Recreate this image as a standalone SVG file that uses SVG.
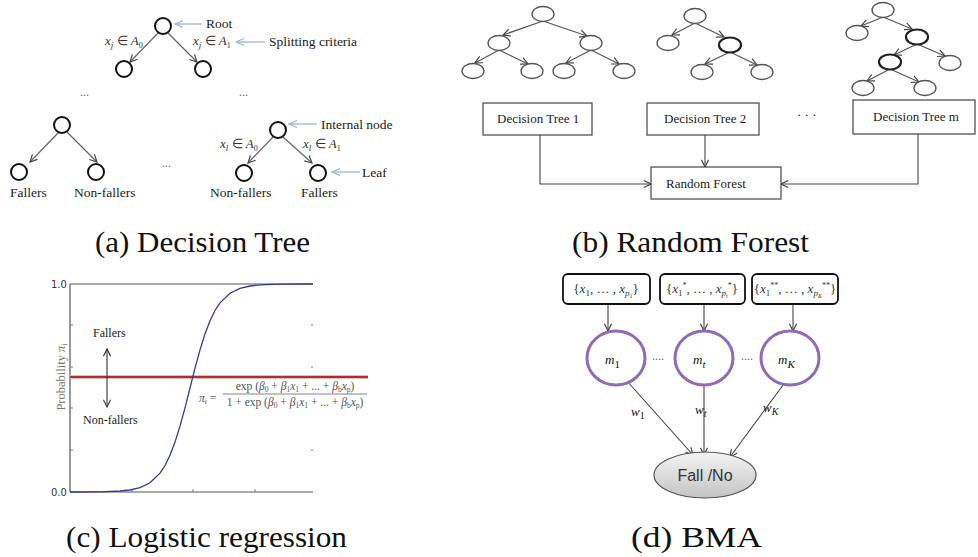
<svg xmlns="http://www.w3.org/2000/svg" width="978" height="557" viewBox="0 0 978 557">
<style>
.t{font-family:"Liberation Serif","Times New Roman",serif;fill:#222}
.ta{font-size:13.5px}
.tb{font-size:13px}
.cap{font-family:"Liberation Serif","Times New Roman",serif;font-size:30px;fill:#111}
.m{font-family:"Liberation Serif","Times New Roman",serif;font-style:italic;fill:#333;font-size:13px}
.node-a{fill:#fff;stroke:#111;stroke-width:2}
.node-b{fill:#fff;stroke:#555;stroke-width:1.3}
.node-bb{fill:#fff;stroke:#222;stroke-width:2.2}
.edge{stroke:#666;stroke-width:1.2;fill:none;marker-end:url(#ah)}
.edgeb{stroke:#555;stroke-width:1.2;fill:none;marker-end:url(#ah)}
.blue{stroke:#9bb5d2;stroke-width:1.3;fill:none;marker-end:url(#ahb)}
.box{fill:#fff;stroke:#444;stroke-width:1.2}
.rbox{fill:#fff;stroke:#111;stroke-width:1.8}
.circ{fill:#fff;stroke:#8e6cba;stroke-width:3}
.con{stroke:#444;stroke-width:1.1;fill:none;marker-end:url(#ah)}
.dots{font-family:"Liberation Serif",serif;font-size:12px;fill:#666}
.ax{stroke:#555;stroke-width:1.2;fill:none}
.tick{stroke:#777;stroke-width:1;fill:none}
.lab{font-family:"DejaVu Sans","Liberation Sans",sans-serif;font-size:10px;fill:#333}
.fm{font-family:"Liberation Serif",serif;font-size:11.5px;fill:#555}
</style>
<defs>
<marker id="ah" viewBox="0 0 10 10" refX="9" refY="5" markerWidth="9" markerHeight="9" markerUnits="userSpaceOnUse" orient="auto">
<path d="M1,1 L9,5 L1,9" fill="none" stroke="#444" stroke-width="1.3"/>
</marker>
<marker id="ahs" viewBox="0 0 10 10" refX="1" refY="5" markerWidth="9" markerHeight="9" markerUnits="userSpaceOnUse" orient="auto">
<path d="M9,1 L1,5 L9,9" fill="none" stroke="#333" stroke-width="1.3"/>
</marker>
<marker id="ahb" viewBox="0 0 10 10" refX="9" refY="5" markerWidth="10" markerHeight="10" markerUnits="userSpaceOnUse" orient="auto">
<path d="M1,1.5 L9,5 L1,8.5" fill="none" stroke="#9bb5d2" stroke-width="1.3"/>
</marker>
<linearGradient id="gr" x1="0" y1="0" x2="0" y2="1">
<stop offset="0" stop-color="#f4f4f4"/>
<stop offset="1" stop-color="#c4c4c4"/>
</linearGradient>
</defs>

<!-- Panel (a) Decision Tree -->
<g id="panel-a">
<g id="connectors-a">
<line class="edge" x1="158" y1="33" x2="130" y2="62"/>
<line class="edge" x1="168" y1="33" x2="197" y2="62"/>
<line class="edge" x1="59" y1="132" x2="30" y2="162"/>
<line class="edge" x1="67" y1="132" x2="97" y2="162"/>
<line class="edge" x1="273" y1="137" x2="248" y2="163"/>
<line class="edge" x1="283" y1="137" x2="312" y2="163"/>
<line class="blue" x1="202" y1="24" x2="175" y2="24"/>
<line class="blue" x1="265" y1="42" x2="236" y2="42"/>
<line class="blue" x1="317" y1="124" x2="289" y2="124"/>
<line class="blue" x1="360" y1="172" x2="332" y2="172"/>
</g>
<g id="a-root"><circle class="node-a" cx="163" cy="26" r="8"/></g>
<g id="a-c1"><circle class="node-a" cx="124" cy="69" r="8"/></g>
<g id="a-c2"><circle class="node-a" cx="203" cy="69" r="8"/></g>
<g id="a-n2"><circle class="node-a" cx="62" cy="125" r="8"/></g>
<g id="a-l1"><circle class="node-a" cx="19" cy="172" r="8"/></g>
<g id="a-l2"><circle class="node-a" cx="96" cy="172" r="8"/></g>
<g id="a-n3"><circle class="node-a" cx="278" cy="130" r="8"/></g>
<g id="a-l3"><circle class="node-a" cx="244" cy="173" r="8"/></g>
<g id="a-l4"><circle class="node-a" cx="318" cy="173" r="8"/></g>
<text class="t ta" x="206" y="28">Root</text>
<text class="t ta" x="269" y="46">Splitting criteria</text>
<text class="t ta" x="321" y="129">Internal node</text>
<text class="t ta" x="362" y="177">Leaf</text>
<text class="t ta" x="10" y="197">Fallers</text>
<text class="t ta" x="74" y="197">Non-fallers</text>
<text class="t ta" x="210" y="197">Non-fallers</text>
<text class="t ta" x="301" y="197">Fallers</text>
<text class="m" x="105" y="45">x<tspan dy="3" font-size="9">j</tspan><tspan dy="-3" font-style="normal"> ∈ </tspan>A<tspan dy="3" font-size="8" font-style="normal">0</tspan></text>
<text class="m" x="193" y="45">x<tspan dy="3" font-size="9">j</tspan><tspan dy="-3" font-style="normal">  ∈ </tspan>A<tspan dy="3" font-size="8" font-style="normal">1</tspan></text>
<text class="m" x="220" y="148">x<tspan dy="3" font-size="9">l</tspan><tspan dy="-3" font-style="normal"> ∈ </tspan>A<tspan dy="3" font-size="8" font-style="normal">0</tspan></text>
<text class="m" x="303" y="148">x<tspan dy="3" font-size="9">l</tspan><tspan dy="-3" font-style="normal">  ∈ </tspan>A<tspan dy="3" font-size="8" font-style="normal">1</tspan></text>
<text class="dots" x="80" y="96">...</text>
<text class="dots" x="239" y="96">...</text>
<text class="dots" x="162" y="167">...</text>
</g>

<!-- Panel (b) Random Forest -->
<g id="panel-b">
<g id="connectors-b">
<line class="edgeb" x1="543" y1="21" x2="503" y2="35"/>
<line class="edgeb" x1="543" y1="21" x2="587" y2="36"/>
<line class="edgeb" x1="499" y1="50" x2="475" y2="63"/>
<line class="edgeb" x1="499" y1="50" x2="528" y2="64"/>
<line class="edgeb" x1="591" y1="50" x2="566" y2="63"/>
<line class="edgeb" x1="591" y1="50" x2="619" y2="64"/>
<line class="edgeb" x1="695" y1="23" x2="672" y2="35"/>
<line class="edgeb" x1="695" y1="23" x2="724" y2="37"/>
<line class="edgeb" x1="730" y1="52" x2="705" y2="64"/>
<line class="edgeb" x1="730" y1="52" x2="757" y2="65"/>
<line class="edgeb" x1="883" y1="17" x2="861" y2="26"/>
<line class="edgeb" x1="883" y1="17" x2="912" y2="29"/>
<line class="edgeb" x1="917" y1="44" x2="894" y2="55"/>
<line class="edgeb" x1="917" y1="44" x2="945" y2="56"/>
<line class="edgeb" x1="890" y1="69" x2="867" y2="81"/>
<line class="edgeb" x1="890" y1="69" x2="919" y2="82"/>
<polyline class="con" points="540,135 540,184 651,184"/>
<line class="con" x1="705" y1="135" x2="705" y2="167"/>
<polyline class="con" points="918,134 918,184 781,184"/>
</g>
<g id="b-tree1">
<ellipse class="node-b" cx="543" cy="14" rx="11" ry="7.5"/>
<ellipse class="node-b" cx="499" cy="43" rx="11" ry="7.5"/>
<ellipse class="node-b" cx="591" cy="43" rx="11" ry="7.5"/>
<ellipse class="node-b" cx="473" cy="71" rx="11" ry="7.5"/>
<ellipse class="node-b" cx="532" cy="71" rx="11" ry="7.5"/>
<ellipse class="node-b" cx="564" cy="71" rx="11" ry="7.5"/>
<ellipse class="node-b" cx="624" cy="71" rx="11" ry="7.5"/>
</g>
<g id="b-tree2">
<ellipse class="node-b" cx="695" cy="16" rx="11" ry="7.5"/>
<ellipse class="node-b" cx="668" cy="43" rx="11" ry="7.5"/>
<ellipse class="node-bb" cx="730" cy="45" rx="11" ry="7.5"/>
<ellipse class="node-b" cx="702" cy="72" rx="11" ry="7.5"/>
<ellipse class="node-b" cx="762" cy="72" rx="11" ry="7.5"/>
</g>
<g id="b-treem">
<ellipse class="node-b" cx="883" cy="10" rx="11" ry="7.5"/>
<ellipse class="node-b" cx="857" cy="33" rx="11" ry="7.5"/>
<ellipse class="node-bb" cx="917" cy="37" rx="11" ry="7.5"/>
<ellipse class="node-bb" cx="890" cy="62" rx="11" ry="7.5"/>
<ellipse class="node-b" cx="950" cy="63" rx="11" ry="7.5"/>
<ellipse class="node-b" cx="863" cy="88" rx="11" ry="7.5"/>
<ellipse class="node-b" cx="925" cy="88" rx="11" ry="7.5"/>
</g>
<g id="b-dt1"><rect class="box" x="483" y="103" width="109" height="32"/><text class="t tb" x="497" y="123">Decision Tree 1</text></g>
<g id="b-dt2"><rect class="box" x="647" y="103" width="112" height="32"/><text class="t tb" x="664" y="123">Decision Tree 2</text></g>
<text class="t tb" x="797" y="119">·  ·  ·</text>
<g id="b-dtm"><rect class="box" x="853" y="100" width="122" height="34"/><text class="t tb" x="873" y="121">Decision Tree m</text></g>
<g id="b-rf"><rect class="box" x="651" y="167" width="130" height="32"/><text class="t tb" x="666" y="188">Random Forest</text></g>
</g>

<!-- Panel (c) Logistic regression -->
<g id="panel-c">
<line class="ax" x1="70" y1="284" x2="70" y2="492"/>
<line class="ax" x1="70" y1="284" x2="313" y2="284"/>
<line class="ax" x1="70" y1="492" x2="313" y2="492"/>
<g class="tick">
<line x1="70" y1="325" x2="73" y2="325"/>
<line x1="70" y1="367" x2="73" y2="367"/>
<line x1="70" y1="408" x2="73" y2="408"/>
<line x1="70" y1="450" x2="73" y2="450"/>
<line x1="132" y1="492" x2="132" y2="489"/>
<line x1="193" y1="492" x2="193" y2="489"/>
<line x1="255" y1="492" x2="255" y2="489"/>
<line x1="311" y1="325" x2="313" y2="325"/>
<line x1="311" y1="367" x2="313" y2="367"/>
<line x1="311" y1="450" x2="313" y2="450"/>
</g>
<text class="lab" x="51" y="288">1.0</text>
<text class="lab" x="51" y="496">0.0</text>
<text class="t" font-size="12.5" style="fill:#777" transform="translate(65,377) rotate(-90)" text-anchor="middle">Probability  <tspan font-style="italic">π</tspan><tspan font-size="8" dy="2">i</tspan></text>
<line x1="70" y1="377" x2="368" y2="377" stroke="#e8b8b8" stroke-width="4"/>
<line x1="70" y1="377" x2="368" y2="377" stroke="#a83232" stroke-width="2"/>
<polyline fill="none" stroke="#3a3a8c" stroke-width="1.3" points="70,492 100,491.8 120,491 130,490 140,487.6 150,482.8 160,473.2 165,465.5 170,455.2 175,442.1 180,426.1 185,407.8 190,388 195,368.2 200,349.9 205,333.9 210,320.8 215,310.5 220,302.8 230,293.2 240,288.4 250,286 260,284.9 280,284.2 313,284"/>
<text class="t" font-size="12" x="93" y="337">Fallers</text>
<text class="t" font-size="12" x="83" y="424">Non-fallers</text>
<line x1="107" y1="349" x2="107" y2="407" stroke="#333" stroke-width="1.1" marker-start="url(#ahs)" marker-end="url(#ah)"/>
<text class="fm" x="199" y="402" font-style="italic">π<tspan font-size="7.5" dy="2">i</tspan><tspan dy="-2" font-style="normal"> =</tspan></text>
<text class="fm" x="295" y="390" text-anchor="middle">exp (<tspan font-style="italic">β</tspan><tspan font-size="7.5" dy="2">0</tspan><tspan dy="-2"> + </tspan><tspan font-style="italic">β</tspan><tspan font-size="7.5" dy="2">1</tspan><tspan dy="-2" font-style="italic">x</tspan><tspan font-size="7.5" dy="2">1</tspan><tspan dy="-2"> + ... + </tspan><tspan font-style="italic">β</tspan><tspan font-size="7.5" dy="2">b</tspan><tspan dy="-2" font-style="italic">x</tspan><tspan font-size="7.5" dy="2">p</tspan><tspan dy="-2">)</tspan></text>
<line x1="223" y1="394" x2="367" y2="394" stroke="#666" stroke-width="0.8"/>
<text class="fm" x="295" y="406" text-anchor="middle">1 + exp (<tspan font-style="italic">β</tspan><tspan font-size="7.5" dy="2">0</tspan><tspan dy="-2"> + </tspan><tspan font-style="italic">β</tspan><tspan font-size="7.5" dy="2">1</tspan><tspan dy="-2" font-style="italic">x</tspan><tspan font-size="7.5" dy="2">1</tspan><tspan dy="-2"> + ... + </tspan><tspan font-style="italic">β</tspan><tspan font-size="7.5" dy="2">b</tspan><tspan dy="-2" font-style="italic">x</tspan><tspan font-size="7.5" dy="2">p</tspan><tspan dy="-2">)</tspan></text>
</g>

<!-- Panel (d) BMA -->
<g id="panel-d">
<g id="connectors-d">
<line class="con" x1="608" y1="304" x2="608" y2="331"/>
<line class="con" x1="704" y1="304" x2="704" y2="331"/>
<line class="con" x1="793" y1="304" x2="793" y2="331"/>
<line class="con" x1="627" y1="381" x2="693" y2="455"/>
<line class="con" x1="704" y1="385" x2="704" y2="455"/>
<line class="con" x1="786" y1="381" x2="730" y2="457"/>
</g>
<g id="d-s1"><rect class="rbox" x="563" y="274" width="87" height="30" rx="5"/>
<text class="m" font-size="14" x="606" y="293" text-anchor="middle"><tspan font-style="normal">{</tspan>x<tspan dy="3" font-size="9" font-style="normal">1</tspan><tspan dy="-3" font-style="normal">, … , </tspan>x<tspan dy="3" font-size="9">p</tspan><tspan dy="2" font-size="6" font-style="normal">1</tspan><tspan dy="-5" font-style="normal">}</tspan></text></g>
<g id="d-s2"><rect class="rbox" x="660" y="274" width="85" height="30" rx="5"/>
<text class="m" font-size="14" x="702" y="293" text-anchor="middle"><tspan font-style="normal">{</tspan>x<tspan dy="3" font-size="9" font-style="normal">1</tspan><tspan dy="-8" font-size="8" font-style="normal">*</tspan><tspan dy="5" font-style="normal">, … , </tspan>x<tspan dy="3" font-size="9">p</tspan><tspan dy="2" font-size="6">t</tspan><tspan dy="-10" font-size="8" font-style="normal">*</tspan><tspan dy="5" font-style="normal">}</tspan></text></g>
<g id="d-s3"><rect class="rbox" x="752" y="274" width="86" height="30" rx="5"/>
<text class="m" font-size="14" x="795" y="293" text-anchor="middle"><tspan font-style="normal">{</tspan>x<tspan dy="3" font-size="9" font-style="normal">1</tspan><tspan dy="-8" font-size="8" font-style="normal">**</tspan><tspan dy="5" font-style="normal">, … , </tspan>x<tspan dy="3" font-size="9">p</tspan><tspan dy="2" font-size="6">K</tspan><tspan dy="-10" font-size="8" font-style="normal">**</tspan><tspan dy="5" font-style="normal">}</tspan></text></g>
<g id="d-m1"><ellipse class="circ" cx="616" cy="358" rx="29" ry="27"/><text class="m" font-size="19" style="fill:#111" x="605" y="364">m<tspan dy="4" font-size="11" font-style="normal">1</tspan></text></g>
<g id="d-mt"><ellipse class="circ" cx="704" cy="358" rx="29" ry="27"/><text class="m" font-size="19" style="fill:#111" x="693" y="364">m<tspan dy="4" font-size="11">t</tspan></text></g>
<g id="d-mk"><ellipse class="circ" cx="790" cy="358" rx="29" ry="27"/><text class="m" font-size="19" style="fill:#111" x="778" y="364">m<tspan dy="4" font-size="11">K</tspan></text></g>
<text class="dots" x="652" y="360">....</text>
<text class="dots" x="741" y="360">....</text>
<text class="m" font-size="15" style="fill:#111" x="631" y="416">w<tspan dy="3" font-size="10" font-style="normal">1</tspan></text>
<text class="m" font-size="15" style="fill:#111" x="695" y="414">w<tspan dy="3" font-size="10">t</tspan></text>
<text class="m" font-size="15" style="fill:#111" x="763" y="412">w<tspan dy="3" font-size="10">K</tspan></text>
<g id="d-fall"><ellipse cx="705" cy="475" rx="51" ry="23" fill="url(#gr)" stroke="#555" stroke-width="1.2"/><text x="705" y="481" text-anchor="middle" font-family="Liberation Sans, Arial, sans-serif" font-size="16" fill="#333">Fall /No</text></g>
</g>

<!-- Captions -->
<text class="cap" x="95" y="252" textLength="215" lengthAdjust="spacingAndGlyphs">(a) Decision Tree</text>
<text class="cap" x="572" y="252" textLength="237" lengthAdjust="spacingAndGlyphs">(b) Random Forest</text>
<text class="cap" x="66" y="547" textLength="281" lengthAdjust="spacingAndGlyphs">(c) Logistic regression</text>
<text class="cap" x="631" y="547" textLength="131" lengthAdjust="spacingAndGlyphs">(d) BMA</text>
</svg>
